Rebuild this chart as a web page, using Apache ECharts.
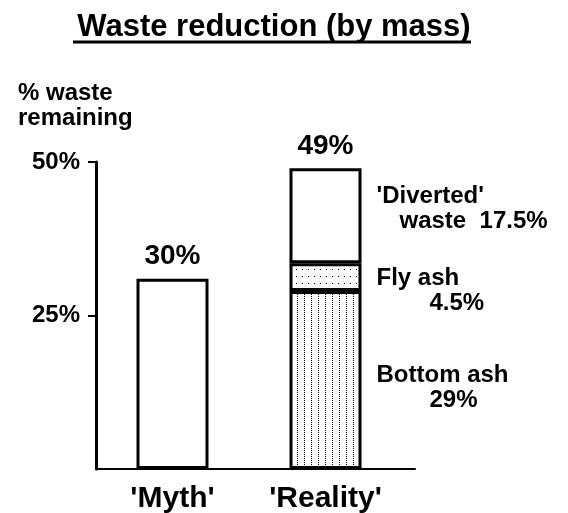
<!DOCTYPE html>
<html>
<head>
<meta charset="utf-8">
<script src="https://cdn.jsdelivr.net/npm/echarts@6/dist/echarts.min.js"></script>
<style>
  html, body { margin: 0; padding: 0; background: #fff; }
  #chart { width: 568px; height: 513px; }
</style>
</head>
<body>
<div id="chart"></div>
<script>
var categories = ["'Myth'", "'Reality'"];
var mythValues = [31, '-'];
var bottomAshValues = ['-', 29];
var flyAshValues = ['-', 4.5];
var divertedValues = ['-', 15.5];
var totalValues = [0, 0];
var totalLabels = ['30%', '49%'];
var segmentNames = ['Bottom ash', 'Fly ash', "'Diverted'"];
var segmentPercents = ['29%', '4.5%', 'waste  17.5%'];
var yTicks = [25, 50];
var yTickLabels = ['25%', '50%'];

var FONT = '"Liberation Sans", Arial, sans-serif';

// small dot textures like the old print patterns
function makePattern(w, h, dx, dy) {
  var c = document.createElement('canvas');
  c.width = w;
  c.height = h;
  var ctx = c.getContext('2d');
  ctx.fillStyle = '#fff';
  ctx.fillRect(0, 0, w, h);
  ctx.fillStyle = '#000';
  ctx.fillRect(dx, dy, 1, 1);
  return { image: c, repeat: 'repeat' };
}

function segLabel(i, dy, indent) {
  return {
    show: true,
    position: 'right',
    distance: 15,
    offset: [0, dy],
    formatter: '{a|' + segmentNames[i] + '}\n{b|' + segmentPercents[i] + '}',
    rich: {
      a: { fontFamily: FONT, fontSize: 24, fontWeight: 'bold', color: '#000', lineHeight: 25 },
      b: { fontFamily: FONT, fontSize: 24, fontWeight: 'bold', color: '#000', lineHeight: 25, padding: [0, 0, 0, indent] }
    }
  };
}

var barStyle = { color: '#fff', borderColor: '#000', borderWidth: 3 };

var chart = echarts.init(document.getElementById('chart'));
var option = {
  animation: false,
  backgroundColor: '#fff',
  title: [
    {
      text: 'Waste reduction (by mass)',
      left: 269,
      top: 7,
      textAlign: 'center',
      textStyle: { fontFamily: FONT, fontSize: 31, fontWeight: 'bold', color: '#000' }
    },
    {
      text: '% waste\nremaining',
      left: 13,
      top: 76,
      textStyle: { fontFamily: FONT, fontSize: 24, fontWeight: 'bold', color: '#000', lineHeight: 25 }
    }
  ],
  graphic: [
    { type: 'line', shape: { x1: 73, y1: 42, x2: 471, y2: 42 }, style: { stroke: '#000', lineWidth: 3 } }
  ],
  grid: [
    { left: 96, right: 166, top: 162, bottom: 44, outerBoundsMode: 'none' },
    { left: 96, right: 153, top: 162, bottom: 44, outerBoundsMode: 'none' }
  ],
  xAxis: [
    {
      type: 'category',
      gridIndex: 0,
      data: categories,
      axisLine: { show: false },
      axisTick: { show: false },
      axisLabel: { margin: 15, fontFamily: FONT, fontSize: 30, fontWeight: 'bold', color: '#000' }
    },
    {
      type: 'value',
      gridIndex: 1,
      min: 0,
      max: 1,
      axisLine: { show: true, onZero: false, lineStyle: { color: '#000', width: 2 } },
      axisTick: { show: false },
      axisLabel: { show: false },
      splitLine: { show: false }
    }
  ],
  yAxis: [
    {
      type: 'value',
      gridIndex: 0,
      min: 0,
      max: 50,
      interval: 25,
      axisLine: { show: true, lineStyle: { color: '#000', width: 3 } },
      axisTick: { show: true, length: 8, customValues: yTicks, lineStyle: { color: '#000', width: 2 } },
      axisLabel: {
        customValues: yTicks,
        formatter: function (v) { return yTickLabels[yTicks.indexOf(v)]; },
        margin: 16,
        fontFamily: FONT,
        fontSize: 24,
        fontWeight: 'bold',
        color: '#000'
      },
      splitLine: { show: false }
    },
    { type: 'value', gridIndex: 1, show: false, min: 0, max: 1 }
  ],
  series: [
    {
      name: 'Myth',
      type: 'bar',
      stack: 'w',
      barWidth: 72,
      data: mythValues,
      itemStyle: barStyle
    },
    {
      name: 'Bottom ash',
      type: 'bar',
      stack: 'w',
      barWidth: 72,
      data: bottomAshValues,
      itemStyle: { color: makePattern(7, 2, 3, 0), borderColor: '#000', borderWidth: 3 },
      label: segLabel(0, 8, 53)
    },
    {
      name: 'Fly ash',
      type: 'bar',
      stack: 'w',
      barWidth: 72,
      data: flyAshValues,
      itemStyle: { color: makePattern(6, 7, 2, 3), borderColor: '#000', borderWidth: 3 },
      label: segLabel(1, 14, 53)
    },
    {
      name: 'Diverted',
      type: 'bar',
      stack: 'w',
      barWidth: 72,
      data: divertedValues,
      itemStyle: barStyle,
      label: segLabel(2, -7, 23)
    },
    {
      name: 'Total',
      type: 'bar',
      stack: 'w',
      barWidth: 72,
      data: totalValues,
      itemStyle: { color: 'transparent', borderWidth: 0 },
      label: {
        show: true,
        position: 'top',
        distance: 8,
        formatter: function (p) { return totalLabels[p.dataIndex]; },
        fontFamily: FONT,
        fontSize: 28,
        fontWeight: 'bold',
        color: '#000'
      }
    }
  ]
};
chart.setOption(option);
</script>
</body>
</html>
